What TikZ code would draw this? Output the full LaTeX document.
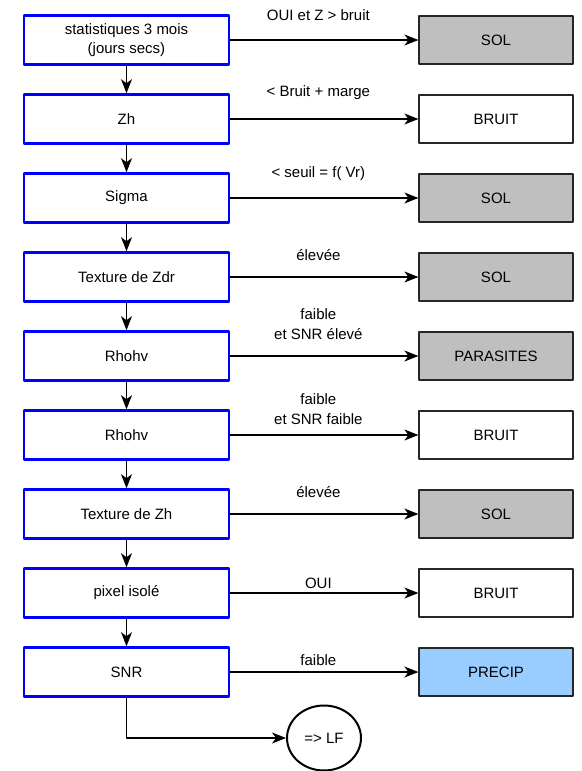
\documentclass[tikz,border=0pt]{standalone}
\usepackage{fontspec}
\setmainfont{Liberation Sans}
\usetikzlibrary{arrows.meta,shapes.geometric}

\definecolor{precipblue}{HTML}{99CCFF}

\tikzset{
  test/.style={draw=blue,line width=2.6pt,fill=white,minimum width=205pt,
    minimum height=49pt,inner sep=0pt,align=center},
  result/.style={draw=black!85,line width=1.2pt,minimum width=154pt,
    minimum height=48pt,inner sep=0pt},
  sol/.style={result,fill=black!25},
  noise/.style={result,fill=white},
  rain/.style={result,fill=precipblue},
  cond/.style={align=center,inner sep=0pt,xshift=-6pt},
  flow/.style={->,line width=1.2pt}
}

\begin{document}
\begin{tikzpicture}[x=1pt,y=-1pt,line cap=round,line join=round,
  >={Stealth[length=14pt,width=11pt,inset=4pt]},
  font=\fontsize{15}{19.5}\selectfont]
  \def\dy{79}
  \useasboundingbox (0,0) rectangle (581,771);

  % Tests, top to bottom
  \foreach \i/\txt in {0/{statistiques 3 mois\\(jours secs)},1/Zh,2/Sigma,
      3/Texture de Zdr,4/Rhohv,5/Rhohv,6/Texture de Zh,7/pixel isolé,8/SNR}
    \node[test] (t\i) at (126.5,{40+\dy*\i}) {\txt};

  % Classes on the right
  \foreach \i/\st/\txt in {0/sol/SOL,1/noise/BRUIT,2/sol/SOL,3/sol/SOL,
      4/sol/PARASITES,5/noise/BRUIT,6/sol/SOL,7/noise/BRUIT,8/rain/PRECIP}
    \node[\st] (r\i) at (496,{40+\dy*\i}) {\txt};

  \node[ellipse,draw,line width=2pt,minimum width=74pt,minimum height=65pt,
    inner sep=0pt] (lf) at (324,738) {=> LF};

  % Chain of tests
  \foreach \i [count=\j] in {0,...,7}
    \draw[flow] (t\i) -- (t\j);

  % Branches with their conditions
  \foreach \i/\h/\txt in {0/25/{OUI et Z > bruit},1/26/{< Bruit + marge},
      2/24/{< seuil = f( Vr)},3/22/élevée,4/32/{faible\\et SNR élevé},
      5/26/{faible\\et SNR faible},6/22/élevée,7/10/OUI,8/12/faible}
    \draw[flow] (t\i) -- node[cond,yshift=\h pt] {\txt} (r\i);

  \draw[flow] (t8.south) |- (lf);
\end{tikzpicture}
\end{document}
